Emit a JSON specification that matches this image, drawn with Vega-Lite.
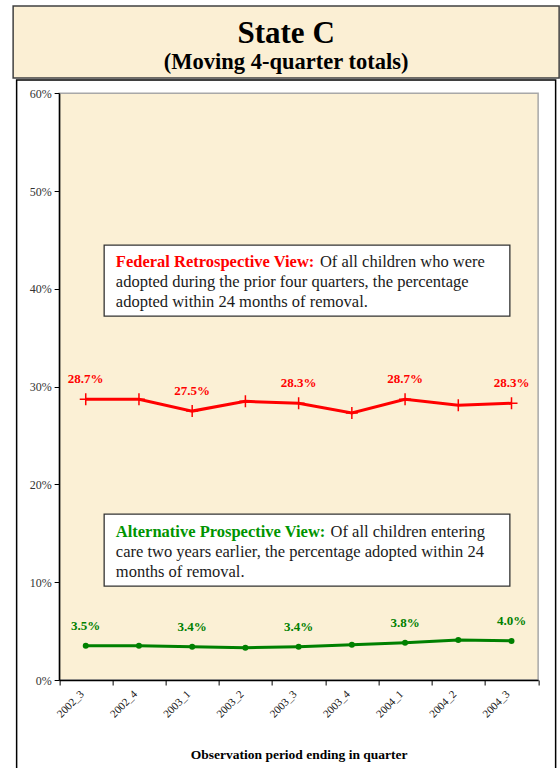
{
  "$schema": "https://vega.github.io/schema/vega-lite/v6.json",
  "padding": {"left": 12, "top": 5, "right": 0, "bottom": 0},
  "background": "white",
  "spacing": 0,
  "center": true,
  "config": {"font": "Liberation Serif", "view": {"stroke": null}},
  "datasets": {
    "header": [
      {"line": "State C", "role": "title"},
      {"line": "(Moving 4-quarter totals)", "role": "subtitle"}
    ],
    "series": [
      {"quarter": "2002_3", "view": "Federal", "value": 0.287},
      {"quarter": "2002_4", "view": "Federal", "value": 0.287},
      {"quarter": "2003_1", "view": "Federal", "value": 0.275},
      {"quarter": "2003_2", "view": "Federal", "value": 0.285},
      {"quarter": "2003_3", "view": "Federal", "value": 0.283},
      {"quarter": "2003_4", "view": "Federal", "value": 0.273},
      {"quarter": "2004_1", "view": "Federal", "value": 0.287},
      {"quarter": "2004_2", "view": "Federal", "value": 0.281},
      {"quarter": "2004_3", "view": "Federal", "value": 0.283},
      {"quarter": "2002_3", "view": "Alternative", "value": 0.035},
      {"quarter": "2002_4", "view": "Alternative", "value": 0.035},
      {"quarter": "2003_1", "view": "Alternative", "value": 0.034},
      {"quarter": "2003_2", "view": "Alternative", "value": 0.033},
      {"quarter": "2003_3", "view": "Alternative", "value": 0.034},
      {"quarter": "2003_4", "view": "Alternative", "value": 0.036},
      {"quarter": "2004_1", "view": "Alternative", "value": 0.038},
      {"quarter": "2004_2", "view": "Alternative", "value": 0.041},
      {"quarter": "2004_3", "view": "Alternative", "value": 0.040}
    ]
  },
  "vconcat": [
    {
      "width": 546,
      "height": 72,
      "view": {"fill": "#FBEFD4", "stroke": "#404040", "strokeWidth": 1.5},
      "data": {"name": "header"},
      "layer": [
        {
          "transform": [{"filter": "datum.role == 'title'"}],
          "mark": {"type": "text", "fontWeight": "bold", "fontSize": 31, "baseline": "alphabetic", "align": "center", "color": "black"},
          "encoding": {
            "y": {"field": "role", "type": "nominal", "scale": {"type": "point", "domain": ["title", "subtitle"], "range": [37, 63], "padding": 0}, "axis": null},
            "text": {"field": "line"}
          }
        },
        {
          "transform": [{"filter": "datum.role == 'subtitle'"}],
          "mark": {"type": "text", "fontWeight": "bold", "fontSize": 22.5, "baseline": "alphabetic", "align": "center", "color": "black"},
          "encoding": {
            "y": {"field": "role", "type": "nominal", "axis": null},
            "text": {"field": "line"}
          }
        }
      ]
    },
    {
      "width": 539,
      "height": 700,
      "view": {"fill": "white", "stroke": "black", "strokeWidth": 1.5},
      "resolve": {"scale": {"x": "independent"}, "axis": {"x": "independent"}},
      "layer": [
        {
          "data": {"values": [{}]},
          "layer": [
            {
              "mark": {"type": "rect", "fill": "#FBF0D5", "stroke": "#A8A8A8", "strokeWidth": 1.5},
              "encoding": {
                "x": {"datum": 0, "type": "quantitative", "scale": {"domain": [0, 9], "range": [42.5, 521.5]}, "axis": null},
                "x2": {"datum": 9},
                "y": {"datum": 0, "type": "quantitative", "scale": {"domain": [0, 0.6], "range": [600, 13.3]}, "title": null},
                "y2": {"datum": 0.6}
              }
            },
            {
              "mark": {"type": "rect", "fill": "white", "stroke": "#333333", "strokeWidth": 1.3},
              "encoding": {
                "x": {"datum": 0.846, "type": "quantitative", "axis": null},
                "x2": {"datum": 8.469},
                "y": {"datum": 0.4448, "type": "quantitative", "title": null},
                "y2": {"datum": 0.3722}
              }
            },
            {
              "mark": {"type": "rect", "fill": "white", "stroke": "#333333", "strokeWidth": 1.3},
              "encoding": {
                "x": {"datum": 0.846, "type": "quantitative", "axis": null},
                "x2": {"datum": 8.469},
                "y": {"datum": 0.1697, "type": "quantitative", "title": null},
                "y2": {"datum": 0.0961}
              }
            },
            {
              "mark": {"type": "text", "align": "left", "baseline": "middle", "fontSize": 16.5, "fontWeight": "bold", "color": "#FF0000"},
              "encoding": {
                "x": {"datum": 1.065, "type": "quantitative", "axis": null},
                "y": {"datum": 0.4277, "type": "quantitative", "title": null},
                "text": {"value": "Federal Retrospective View:"}
              }
            },
            {
              "mark": {"type": "text", "align": "left", "baseline": "middle", "fontSize": 16.5, "color": "#1a1a1a"},
              "encoding": {
                "x": {"datum": 4.9, "type": "quantitative", "axis": null},
                "y": {"datum": 0.4277, "type": "quantitative", "title": null},
                "text": {"value": "Of all children who were"}
              }
            },
            {
              "mark": {"type": "text", "align": "left", "baseline": "middle", "fontSize": 16.5, "color": "#1a1a1a"},
              "encoding": {
                "x": {"datum": 1.065, "type": "quantitative", "axis": null},
                "y": {"datum": 0.4072, "type": "quantitative", "title": null},
                "text": {"value": "adopted during the prior four quarters, the percentage"}
              }
            },
            {
              "mark": {"type": "text", "align": "left", "baseline": "middle", "fontSize": 16.5, "color": "#1a1a1a"},
              "encoding": {
                "x": {"datum": 1.065, "type": "quantitative", "axis": null},
                "y": {"datum": 0.3868, "type": "quantitative", "title": null},
                "text": {"value": "adopted within 24 months of removal."}
              }
            },
            {
              "mark": {"type": "text", "align": "left", "baseline": "middle", "fontSize": 16.5, "fontWeight": "bold", "color": "#009400"},
              "encoding": {
                "x": {"datum": 1.065, "type": "quantitative", "axis": null},
                "y": {"datum": 0.1516, "type": "quantitative", "title": null},
                "text": {"value": "Alternative Prospective View:"}
              }
            },
            {
              "mark": {"type": "text", "align": "left", "baseline": "middle", "fontSize": 16.5, "color": "#1a1a1a"},
              "encoding": {
                "x": {"datum": 5.1, "type": "quantitative", "axis": null},
                "y": {"datum": 0.1516, "type": "quantitative", "title": null},
                "text": {"value": "Of all children entering"}
              }
            },
            {
              "mark": {"type": "text", "align": "left", "baseline": "middle", "fontSize": 16.5, "color": "#1a1a1a"},
              "encoding": {
                "x": {"datum": 1.065, "type": "quantitative", "axis": null},
                "y": {"datum": 0.1312, "type": "quantitative", "title": null},
                "text": {"value": "care two years earlier, the percentage adopted within 24"}
              }
            },
            {
              "mark": {"type": "text", "align": "left", "baseline": "middle", "fontSize": 16.5, "color": "#1a1a1a"},
              "encoding": {
                "x": {"datum": 1.065, "type": "quantitative", "axis": null},
                "y": {"datum": 0.1107, "type": "quantitative", "title": null},
                "text": {"value": "months of removal."}
              }
            }
          ]
        },
        {
          "data": {"name": "series"},
          "encoding": {
            "x": {
              "field": "quarter",
              "type": "ordinal",
              "bandPosition": 0.5,
              "scale": {"type": "band", "paddingInner": 0, "paddingOuter": 0, "range": [42.5, 521.5]},
              "axis": {
                "orient": "bottom",
                "offset": -100,
                "title": "Observation period ending in quarter",
                "titleFont": "Liberation Serif",
                "titleFontWeight": "bold",
                "titleFontSize": 13.5,
                "titleColor": "black",
                "titleY": 74,
                "titleAlign": "center",
                "titleBaseline": "middle",
                "labelAngle": -45,
                "labelFontSize": 11,
                "labelColor": "#111111",
                "labelPadding": 3,
                "labelOffset": -8,
                "tickBand": "extent",
                "tickSize": 5,
                "tickColor": "black",
                "domainColor": "black",
                "domainWidth": 1.5,
                "grid": false,
                "zindex": 1
              }
            },
            "y": {
              "field": "value",
              "type": "quantitative",
              "title": null,
              "scale": {"domain": [0, 0.6], "range": [600, 13.3]},
              "axis": {
                "orient": "left",
                "offset": -42.5,
                "format": ".0%",
                "values": [0, 0.1, 0.2, 0.3, 0.4, 0.5, 0.6],
                "tickSize": 5,
                "tickColor": "black",
                "domainColor": "black",
                "domainWidth": 1.5,
                "labelFontSize": 12,
                "labelColor": "#333333",
                "labelPadding": 3,
                "grid": false,
                "zindex": 1,
                "title": null
              }
            },
            "color": {"field": "view", "type": "nominal", "scale": {"domain": ["Federal", "Alternative"], "range": ["#FF0000", "#008000"]}, "legend": null}
          },
          "layer": [
            {"mark": {"type": "line", "strokeWidth": 3}},
            {
              "transform": [{"filter": "datum.view == 'Federal'"}],
              "mark": {"type": "point", "shape": "M-1,0H1M0,-1V1", "size": 144, "filled": false, "strokeWidth": 1.5, "opacity": 1}
            },
            {
              "transform": [{"filter": "datum.view == 'Alternative'"}],
              "mark": {"type": "point", "shape": "circle", "size": 36, "filled": true, "opacity": 1}
            },
            {
              "transform": [{"filter": {"field": "quarter", "oneOf": ["2002_3", "2003_1", "2003_3", "2004_1", "2004_3"]}}],
              "mark": {"type": "text", "fontWeight": "bold", "fontSize": 13, "baseline": "alphabetic", "dy": -16},
              "encoding": {"text": {"field": "value", "type": "quantitative", "format": ".1%"}}
            }
          ]
        }
      ]
    }
  ]
}
